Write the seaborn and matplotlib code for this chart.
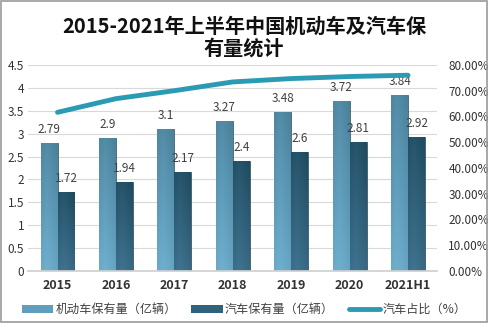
import matplotlib
matplotlib.use("Agg")
import matplotlib.pyplot as plt
import seaborn as sns
import pandas as pd
import numpy as np
from matplotlib.patches import Patch
from matplotlib.lines import Line2D
from matplotlib.colors import LinearSegmentedColormap

years = ["2015", "2016", "2017", "2018", "2019", "2020", "2021H1"]
motor = [2.79, 2.9, 3.1, 3.27, 3.48, 3.72, 3.84]
cars = [1.72, 1.94, 2.17, 2.4, 2.6, 2.81, 2.92]
share = [61.6, 66.9, 70.0, 73.4, 74.7, 75.5, 76.0]
s_motor = "机动车保有量（亿辆）"
s_car = "汽车保有量（亿辆）"
s_share = "汽车占比（%）"
title = "2015-2021年上半年中国机动车及汽车保\n有量统计"

sns.set_theme(style="white")
plt.rcParams['font.family'] = ['Noto Sans CJK SC', 'DejaVu Sans']

df = pd.DataFrame({
    "year": years * 2,
    "value": motor + cars,
    "series": [s_motor] * len(years) + [s_car] * len(years),
})
dl = pd.DataFrame({"year": years, "share": share})

c1 = "#5f9fbd"
c2 = "#2f627c"
cl = "#2b9ab3"
grad1 = ["#6fb0cf", "#5c98b5", "#4a8099"]
grad2 = ["#3f738f", "#2f5f78", "#1d4a5e"]

fig = plt.figure(figsize=(4.88, 3.23), dpi=100)
ax = fig.add_axes([0.058, 0.161, 0.838, 0.638])
sns.barplot(data=df, x="year", y="value", hue="series", palette=[c1, c2],
            width=0.58, gap=0, ax=ax, legend=False, edgecolor="#2a4a5a", linewidth=0.5)
ax.set_ylim(0, 4.5)
ax.set_xlim(-0.5, len(years) - 0.5)

# gradient fill clipped to each bar
cmaps = [LinearSegmentedColormap.from_list("g1", grad1), LinearSegmentedColormap.from_list("g2", grad2)]
for ci, cont in enumerate(ax.containers):
    for p in cont.patches:
        x0, y0 = p.get_x(), p.get_y()
        w, h = p.get_width(), p.get_height()
        gy = np.linspace(0, 1, 64).reshape(-1, 1)
        gx = np.linspace(0, 1, 16).reshape(1, -1)
        g = 0.75 * gy + 0.25 * (1 - np.abs(gx - 0.35) * 1.5)
        g = 1 - np.clip(g, 0, 1)
        im = ax.imshow(g, cmap=cmaps[ci], vmin=0, vmax=1, aspect="auto",
                       extent=[x0, x0 + w, y0, y0 + h], origin="upper", zorder=p.get_zorder())
        im.set_clip_path(p)

ax.set_xlim(-0.5, len(years) - 0.5)
ax.set_ylim(0, 4.5)
ax.set_yticks(np.arange(0, 4.51, 0.5))
ax.set_yticklabels(["0", "0.5", "1", "1.5", "2", "2.5", "3", "3.5", "4", "4.5"])
ax.grid(axis="y", color="#d9d9d9", linewidth=0.8)
ax.set_axisbelow(True)
for sp in ["top", "right", "left"]:
    ax.spines[sp].set_visible(False)
ax.spines["bottom"].set_color("#d0d0d0")
ax.set_xlabel("")
ax.set_ylabel("")
ax.tick_params(axis="y", labelsize=8.5, colors="#333333", pad=3, length=0)
ax.tick_params(axis="x", labelsize=9, colors="#333333", pad=6, length=0)
for lab in ax.get_xticklabels():
    lab.set_fontweight("bold")

for cont in ax.containers:
    ax.bar_label(cont, labels=[f"{v:g}" for v in cont.datavalues], fontsize=8.5,
                 color="#404040", padding=5)

ax2 = ax.twinx()
sns.lineplot(data=dl, x="year", y="share", ax=ax2, color=cl, linewidth=3.5, sort=False)
ax2.set_ylim(0, 80)
ax2.set_yticks(np.arange(0, 80.1, 10))
ax2.set_yticklabels([f"{v:.2f}%" for v in np.arange(0, 80.1, 10)])
ax2.tick_params(axis="y", labelsize=8.5, colors="#333333", length=0, pad=8)
for sp in ["top", "right", "left", "bottom"]:
    ax2.spines[sp].set_visible(False)
ax2.set_ylabel("")
ax2.set_xlabel("")

fig.text(0.5, 0.952, title, ha="center", va="top", fontsize=14.5, fontweight="bold",
         color="#111111", linespacing=1.05)

handles = [Patch(facecolor=c1, edgecolor="none"), Patch(facecolor=c2, edgecolor="none"),
           Line2D([0], [0], color=cl, linewidth=3.5)]
fig.legend(handles, [s_motor, s_car, s_share], loc="center", bbox_to_anchor=(0.5, 0.042),
           ncol=3, frameon=False, fontsize=8.7, handlelength=2.6, handleheight=0.6,
           handletextpad=0.2, columnspacing=1.2, labelcolor="#404040")

fig.patches.append(plt.Rectangle((0.002, 0.002), 0.996, 0.996, transform=fig.transFigure,
                                 fill=False, edgecolor="#999999", linewidth=1.2))
fig.savefig("out.png", dpi=100)
